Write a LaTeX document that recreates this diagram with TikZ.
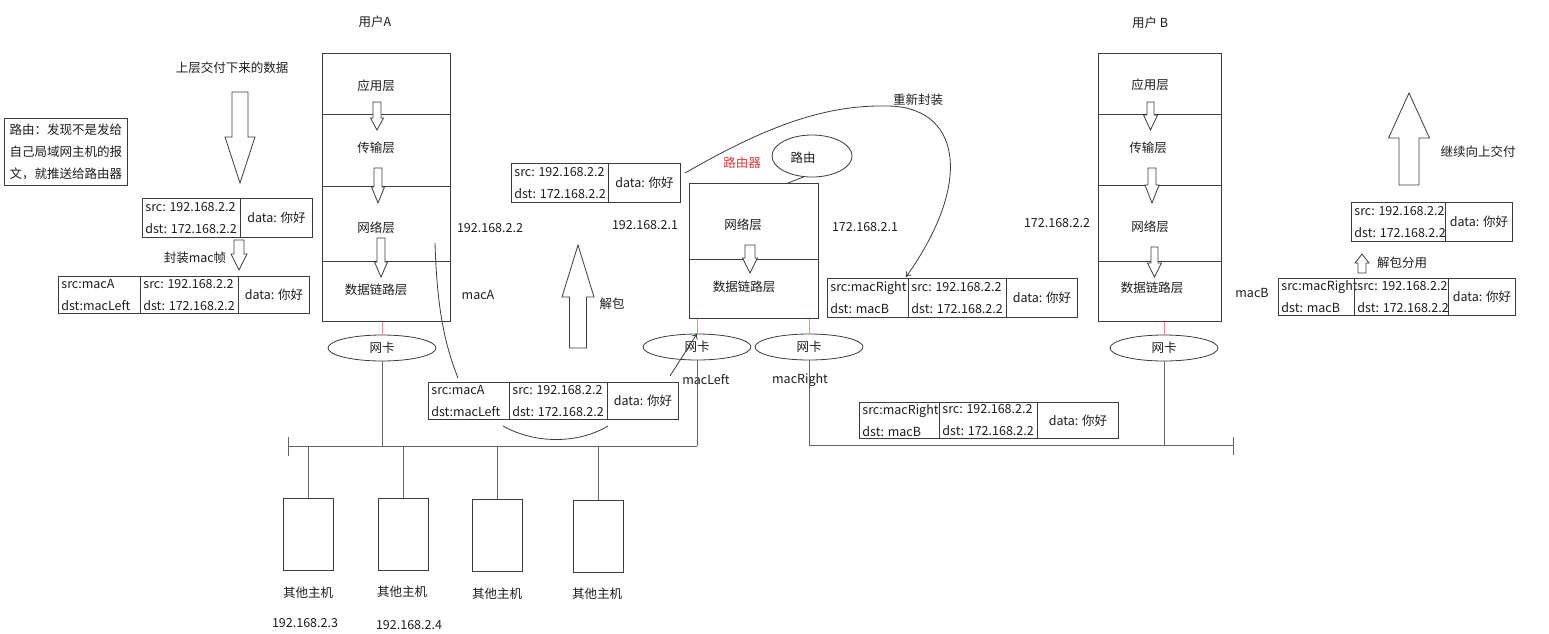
\documentclass[tikz,border=0pt]{standalone}
\usepackage{fontspec}
\setmainfont{Noto Sans CJK SC}
\usetikzlibrary{shapes.geometric,arrows.meta}
\definecolor{ln}{HTML}{3C3C3C}
\definecolor{busc}{HTML}{666666}
\definecolor{rl}{HTML}{E89090}
\definecolor{rt}{HTML}{E03A3A}
\definecolor{tx}{HTML}{1E1E1E}
% block arrow: x, shaft end y, head base y, tip y, shaft width, head width
\newcommand{\blockArrow}[6]{%
  \draw[ln,fill=white] ({#1-#5/2},#2) -- ({#1+#5/2},#2) -- ({#1+#5/2},#3) -- ({#1+#6/2},#3) -- (#1,#4) -- ({#1-#6/2},#3) -- ({#1-#5/2},#3) -- cycle;}
% header cell (box + left-aligned two-line text)
\newcommand{\pcell}[6]{%
  \pgfmathsetmacro{\pcW}{#4-#2}\pgfmathsetmacro{\pcH}{#5-#3}%
  \node[cell, minimum width=\pcW pt, minimum height=\pcH pt] (#1) at (#2,#3) {};
  \node[celltext] (#1t) at ([xshift=3pt]#1.west) {#6};}
% data cell (box with centred text)
\newcommand{\dcell}[6]{%
  \pgfmathsetmacro{\pcW}{#4-#2}\pgfmathsetmacro{\pcH}{#5-#3}%
  \node[cell, minimum width=\pcW pt, minimum height=\pcH pt] (#1) at (#2,#3) {#6};}
\begin{document}
\begin{tikzpicture}[x=1pt,y=-1pt,line width=0.8pt,
  every node/.style={text=tx, font=\fontsize{12.5}{15}\selectfont},
  layerbox/.style={draw=ln, anchor=north west, inner sep=0pt},
  cell/.style={draw=ln, anchor=north west, inner sep=0pt},
  celltext/.style={anchor=west, align=left, inner sep=0pt, font=\fontsize{12.5}{22}\selectfont},
  nic/.style={draw=ln, ellipse, minimum width=108pt, minimum height=26pt, inner sep=0pt},
  host/.style={draw=ln, anchor=north west, minimum width=50pt, minimum height=72pt, inner sep=0pt},
  lbl/.style={inner sep=0pt},
  bus/.style={draw=busc},
  redl/.style={draw=rl}]
\useasboundingbox[fill=white] (0,0) rectangle (1549,633);

% ---------- user A stack ----------
\node[lbl] (uA) at (375,22) {用户A};
\node[layerbox, minimum width=128pt, minimum height=61pt] (A1) at (322,53) {};
\node[layerbox, minimum width=128pt, minimum height=72pt] (A2) at (322,114) {};
\node[layerbox, minimum width=128pt, minimum height=75pt] (A3) at (322,186) {};
\node[layerbox, minimum width=128pt, minimum height=60pt] (A4) at (322,261) {};
\node[lbl] (A1t) at (376,86) {应用层};
\node[lbl] (A2t) at (376,148) {传输层};
\node[lbl] (A3t) at (376,228) {网络层};
\node[lbl] (A4t) at (376,290) {数据链路层};
\blockArrow{377}{102}{118}{130}{8}{13}
\blockArrow{378}{168}{187}{203}{8}{13}
\blockArrow{381}{238}{262}{277}{8}{13}
\node[lbl] (ipA) at (490,228) {192.168.2.2};
\node[lbl] (macAt) at (478,295) {macA};

% ---------- router ----------
\node[layerbox, minimum width=129pt, minimum height=76pt] (R1) at (689,183) {};
\node[layerbox, minimum width=129pt, minimum height=59pt] (R2) at (689,259) {};
\node[lbl] (R1t) at (743,225) {网络层};
\node[lbl] (R2t) at (744,287) {数据链路层};
\blockArrow{750}{245}{258}{273}{10}{15}
\node[lbl, text=rt] (rname) at (742,163) {路由器};
\node[draw=ln, ellipse, minimum width=80pt, minimum height=42pt, inner sep=0pt] (callout) at (812,156) {};
\node[lbl] (callt) at (803,158) {路由};
\coordinate (tail) at (788,183);
\draw[ln] (callout.248) -- (tail);
\node[lbl] (ipR1) at (645,225) {192.168.2.1};
\node[lbl] (ipR2) at (865,227) {172.168.2.1};

% ---------- user B stack ----------
\node[lbl] (uB) at (1150,23) {用户 B};
\node[layerbox, minimum width=123pt, minimum height=61pt] (B1) at (1098,53) {};
\node[layerbox, minimum width=123pt, minimum height=71pt] (B2) at (1098,114) {};
\node[layerbox, minimum width=123pt, minimum height=76pt] (B3) at (1098,185) {};
\node[layerbox, minimum width=123pt, minimum height=60pt] (B4) at (1098,261) {};
\node[lbl] (B1t) at (1150,85) {应用层};
\node[lbl] (B2t) at (1148,148) {传输层};
\node[lbl] (B3t) at (1150,227) {网络层};
\node[lbl] (B4t) at (1152,288) {数据链路层};
\blockArrow{1150.5}{102}{115}{130}{7}{14}
\blockArrow{1152}{168}{185}{203}{8}{14}
\blockArrow{1154.5}{247}{263}{277}{7}{14}
\node[lbl] (ipB) at (1057,223) {172.168.2.2};
\node[lbl] (macBt) at (1252,293) {macB};

% ---------- NICs ----------
\node[nic] (nicA) at (382,348) {网卡};
\node[nic] (nicL) at (697,347) {网卡};
\node[nic] (nicR) at (809,347) {网卡};
\node[nic] (nicB) at (1164,348) {网卡};
\draw[redl] (nicA.north |- A4.south) -- (nicA.north);
\draw[redl] (nicL.north |- R2.south) -- (nicL.north);
\draw[redl] (nicR.north |- R2.south) -- (nicR.north);
\draw[redl] (nicB.north |- B4.south) -- (nicB.north);
\node[lbl] (macL) at (706,380) {macLeft};
\node[lbl] (macR) at (800,380) {macRight};

% ---------- buses ----------
\coordinate (busL0) at (288,446);
\coordinate (busL1) at (697,446);
\coordinate (busR1) at (1233,445);
\draw[bus] (busL0) -- (busL1);
\draw[bus] (288,437) -- (288,456);
\draw[bus] (nicA.south) -- (nicA.south |- busL0);
\draw[bus] (nicL.south) -- (busL1);
\draw[bus] (nicR.south) |- (busR1);
\draw[bus] (1233,437) -- (1233,455);
\draw[bus] (nicB.south) -- (nicB.south |- busR1);

% ---------- hosts ----------
\node[host] (h1) at (283,498) {};
\node[host] (h2) at (378,498) {};
\node[host] (h3) at (472,499) {};
\node[host] (h4) at (573,500) {};
\draw[bus] (h1.north) -- (h1.north |- busL0);
\draw[bus] (h2.north) -- (h2.north |- busL0);
\draw[bus] (h3.north) -- (h3.north |- busL0);
\draw[bus] (h4.north) -- (h4.north |- busL0);
\node[lbl] (h1t) at (308,593) {其他主机};
\node[lbl] (h2t) at (402,592) {其他主机};
\node[lbl] (h3t) at (497,594) {其他主机};
\node[lbl] (h4t) at (597,594) {其他主机};
\node[lbl] (h1ip) at (305,623) {192.168.2.3};
\node[lbl] (h2ip) at (409,625) {192.168.2.4};

% ---------- left side ----------
\node[draw=ln, anchor=north west, minimum width=123pt, minimum height=67pt, align=left, inner xsep=4pt,
      font=\fontsize{12.5}{22}\selectfont] (note) at (4,118) {路由：发现不是发给\\自己局域网主机的报\\文，就推送给路由器};
\node[lbl] (downt) at (232,68) {上层交付下来的数据};
\blockArrow{240}{92}{137}{183}{16}{30}
\pcell{p1a}{142}{198}{240}{237}{src: 192.168.2.2\\dst: 172.168.2.2}
\dcell{p1b}{240}{198}{312}{237}{data: 你好}
\node[lbl] (enct) at (195,258) {封装mac帧};
\blockArrow{239}{240}{254}{270}{10}{16}
\pcell{f1a}{58}{276}{140}{313}{src:macA\\dst:macLeft}
\pcell{f1b}{140}{276}{238}{313}{src: 192.168.2.2\\dst: 172.168.2.2}
\dcell{f1c}{238}{276}{309}{313}{data: 你好}

% ---------- middle ----------
\pcell{p2a}{511}{163}{608}{202}{src: 192.168.2.2\\dst: 172.168.2.2}
\dcell{p2b}{608}{163}{680}{202}{data: 你好}
\blockArrow{578}{348}{297}{245}{17}{32}
\node[lbl] (unpk) at (612,304) {解包};
\pcell{f2a}{428}{382}{509}{419}{src:macA\\dst:macLeft}
\pcell{f2b}{509}{382}{607}{419}{src: 192.168.2.2\\dst: 172.168.2.2}
\dcell{f2c}{607}{382}{678}{419}{data: 你好}
\coordinate (cA0) at (435,243);
\coordinate (cA1) at (458,378);
\draw[ln] (cA0) .. controls (437,310) and (445,345) .. (cA1);
\coordinate (arc0) at (503,426);
\coordinate (arc1) at (608,426);
\draw[ln] (arc0) .. controls (535,444) and (578,444) .. (arc1);
\coordinate (aL0) at (670,376);
\draw[ln,-{To[length=5pt,width=7pt]}] (aL0) -- (nicL.north);

% ---------- re-encapsulation ----------
\coordinate (re0) at (685,173);
\coordinate (re1) at (906,277);
\draw[ln,-{To[length=5pt,width=7pt]}] (re0) .. controls (760,130) and (820,105) .. (885,106) .. controls (960,105) and (975,180) .. (re1);
\node[lbl] (ret) at (918,100) {重新封装};
\pcell{f3a}{827}{278}{908}{317}{src:macRight\\dst: macB}
\pcell{f3b}{908}{278}{1006}{317}{src: 192.168.2.2\\dst: 172.168.2.2}
\dcell{f3c}{1006}{278}{1077}{317}{data: 你好}
\pcell{f4a}{859}{402}{939}{438}{src:macRight\\dst: macB}
\pcell{f4b}{939}{402}{1037}{438}{src: 192.168.2.2\\dst: 172.168.2.2}
\dcell{f4c}{1037}{402}{1118}{438}{data: 你好}

% ---------- right side ----------
\pcell{f5a}{1278}{278}{1354}{315}{src:macRight\\dst: macB}
\pcell{f5b}{1354}{278}{1448}{315}{src: 192.168.2.2\\dst: 172.168.2.2}
\dcell{f5c}{1448}{278}{1515}{315}{data: 你好}
\blockArrow{1362}{273}{263}{254}{8}{14}
\node[lbl] (unpk2) at (1402,263) {解包分用};
\pcell{p6a}{1351}{202}{1445}{241}{src: 192.168.2.2\\dst: 172.168.2.2}
\dcell{p6b}{1445}{202}{1512}{241}{data: 你好}
\blockArrow{1409}{185}{138}{93}{20}{41}
\node[lbl] (upt) at (1478,152) {继续向上交付};
\end{tikzpicture}
\end{document}
